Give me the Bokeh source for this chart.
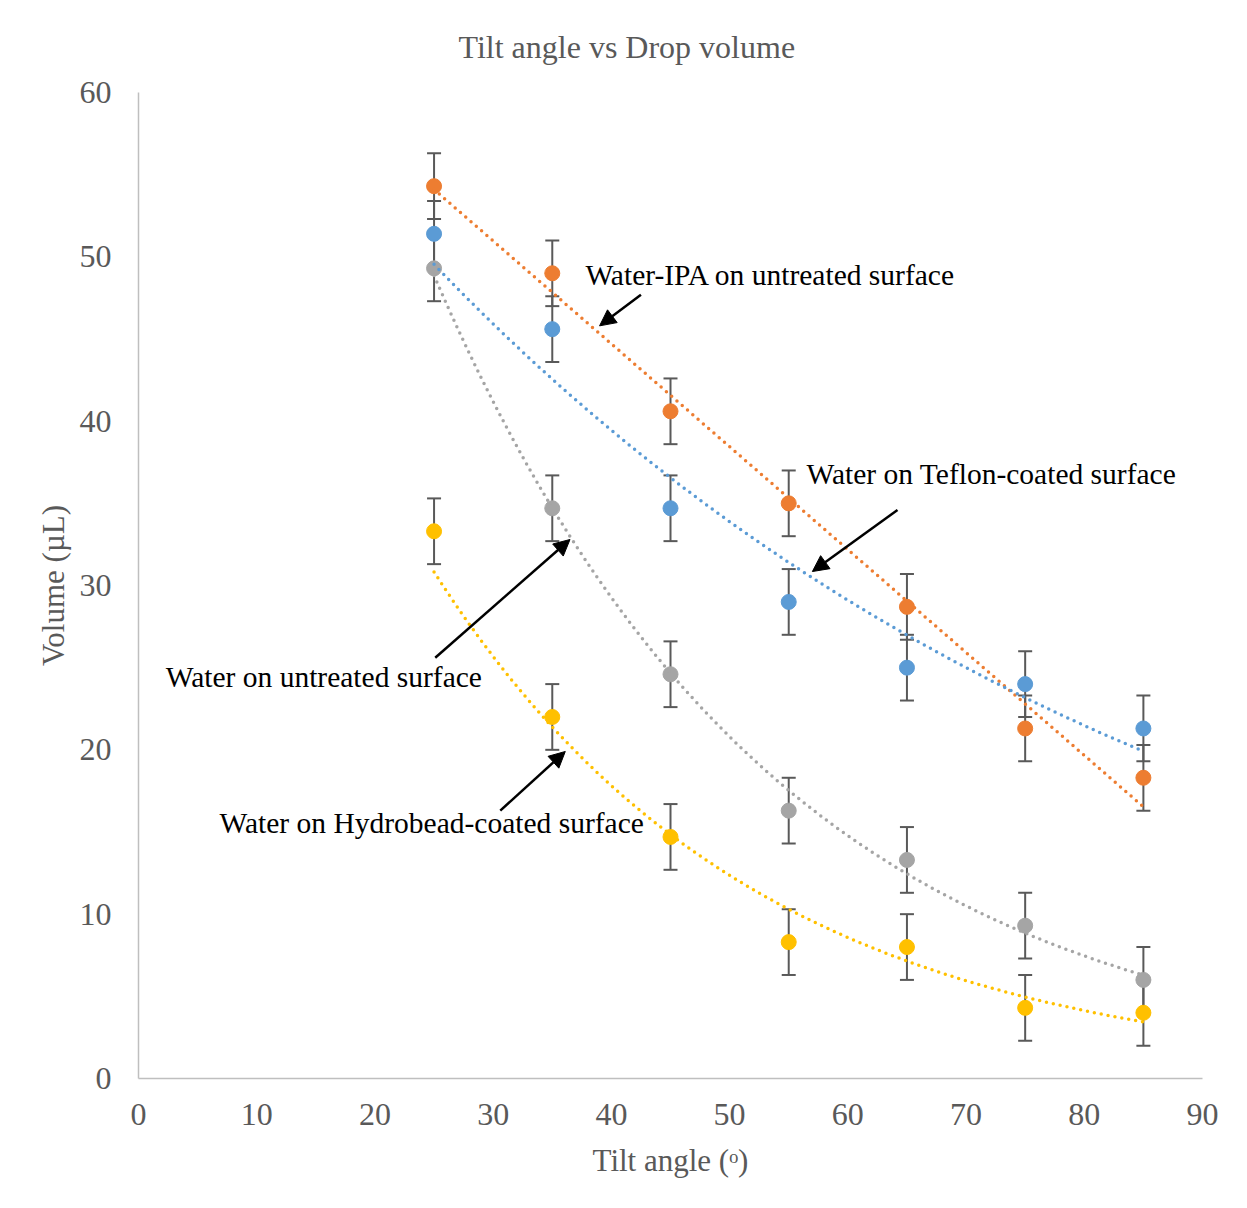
import numpy as np
from bokeh.plotting import figure
from bokeh.models import (ColumnDataSource, Whisker, TeeHead, Arrow, NormalHead,
                          Label, Range1d, FixedTicker)
from bokeh.embed import file_html
from bokeh.resources import INLINE

# ---------------- data ----------------
angles = [25, 35, 45, 55, 65, 75, 85]
ipa_untreated = [54.3, 49.0, 40.6, 35.0, 28.7, 21.3, 18.3]
water_teflon = [51.4, 45.6, 34.7, 29.0, 25.0, 24.0, 21.3]
water_untreated = [49.3, 34.7, 24.6, 16.3, 13.3, 9.3, 6.0]
water_hydrobead = [33.3, 22.0, 14.7, 8.3, 8.0, 4.3, 4.0]
error = 2.0

x_ticks = [0, 10, 20, 30, 40, 50, 60, 70, 80, 90]
y_ticks = [0, 10, 20, 30, 40, 50, 60]

title_text = "Tilt angle vs Drop volume"
x_label = "Tilt angle (\u1d52)"
y_label = "Volume (\u00b5L)"

series = [
    ("Water-IPA on untreated surface", ipa_untreated, "#ED7D31", "linear"),
    ("Water on Teflon-coated surface", water_teflon, "#5B9BD5", "exp"),
    ("Water on untreated surface", water_untreated, "#A5A5A5", "exp"),
    ("Water on Hydrobead-coated surface", water_hydrobead, "#FFC000", "exp"),
]

FONT = "Liberation Serif"
GREY_TXT = "#595959"

p = figure(width=1247, height=1208, output_backend="svg", toolbar_location=None,
           x_range=Range1d(0, 90), y_range=Range1d(0, 60),
           min_border_left=138, min_border_right=45, min_border_top=92,
           min_border_bottom=130)
p.outline_line_color = None
p.xgrid.grid_line_color = None
p.ygrid.grid_line_color = None

p.title.text = title_text
p.title.text_font = FONT
p.title.text_font_size = "32px"
p.title.text_font_style = "normal"
p.title.text_color = GREY_TXT
p.title.align = "left"
p.title.offset = 320
p.title.standoff = 51
p.title.vertical_align = "top"

for ax, ticks in ((p.xaxis[0], x_ticks), (p.yaxis[0], y_ticks)):
    ax.ticker = FixedTicker(ticks=ticks)
    ax.major_tick_in = 0
    ax.major_tick_out = 0
    ax.minor_tick_in = 0
    ax.minor_tick_out = 0
    ax.axis_line_color = "#BFBFBF"
    ax.axis_line_width = 1.5
    ax.major_label_text_font = FONT
    ax.major_label_text_font_size = "32px"
    ax.major_label_text_color = GREY_TXT
    ax.axis_label_text_font = FONT
    ax.axis_label_text_font_size = "31px"
    ax.axis_label_text_font_style = "normal"
    ax.axis_label_text_color = GREY_TXT

p.xaxis.axis_label = x_label
p.yaxis.axis_label = y_label
p.yaxis.major_label_standoff = 27
p.xaxis.major_label_standoff = 25
p.yaxis.axis_label_standoff = 6
p.xaxis.axis_label_standoff = 15

# error bars
for name, vals, color, kind in series:
    src = ColumnDataSource(dict(x=angles, y=vals,
                                lower=[v - error for v in vals],
                                upper=[v + error for v in vals]))
    w = Whisker(source=src, base="x", lower="lower", upper="upper",
                line_color="#595959", line_width=2,
                upper_head=TeeHead(size=14, line_color="#595959", line_width=2),
                lower_head=TeeHead(size=14, line_color="#595959", line_width=2))
    p.add_layout(w)

# markers
for name, vals, color, kind in series:
    p.scatter(angles, vals, size=15, fill_color=color, line_color=color)

# trend lines (fitted from data)
xa = np.array(angles, dtype=float)
xf = np.linspace(min(angles), max(angles), 121)
for name, vals, color, kind in series:
    ya = np.array(vals, dtype=float)
    if kind == "linear":
        c = np.polyfit(xa, ya, 1)
        yf = np.polyval(c, xf)
    else:
        c = np.polyfit(xa, np.log(ya), 1)
        yf = np.exp(np.polyval(c, xf))
    p.line(xf, yf, line_color=color, line_width=3.5, line_dash="0 7", line_cap="round")

# annotations
ann = [
    ("Water-IPA on untreated surface", 37.8, 48.9, (42.5, 47.7), (39.0, 45.8)),
    ("Water on Teflon-coated surface", 56.5, 36.8, (64.2, 34.6), (57.0, 30.85)),
    ("Water on untreated surface", 2.3, 24.45, (25.1, 25.6), (36.5, 32.8)),
    ("Water on Hydrobead-coated surface", 6.85, 15.55, (30.6, 16.3), (36.1, 19.9)),
]
for text, tx, ty, (x0, y0), (x1, y1) in ann:
    p.add_layout(Label(x=tx, y=ty, text=text, text_font=FONT, text_font_size="29.5px",
                       text_color="black", text_align="left", text_baseline="middle"))
    p.add_layout(Arrow(x_start=x0, y_start=y0, x_end=x1, y_end=y1,
                       line_color="black", line_width=2.5,
                       end=NormalHead(size=16, fill_color="black", line_color="black")))

open("out.html", "w").write(file_html(p, INLINE))
